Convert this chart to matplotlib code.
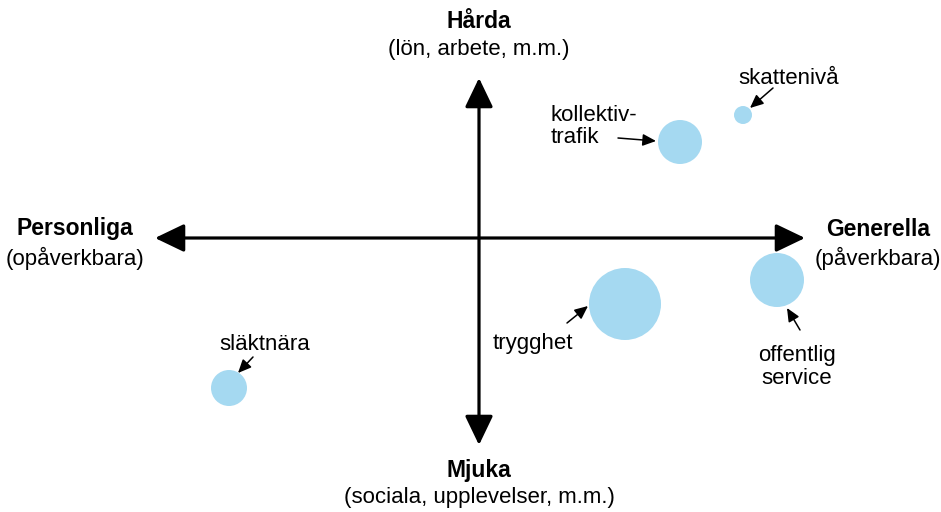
import matplotlib
matplotlib.use("Agg")
import matplotlib.pyplot as plt
from matplotlib.patches import Circle, FancyArrowPatch

plt.rcParams['font.family'] = ['Liberation Sans', 'DejaVu Sans']

# bubbles: position in the personal/general (x) and soft/hard (y) plane, radius
names = ['kollektivtrafik', 'skattenivå', 'trygghet', 'offentlig service', 'släktnära']
xs = [2.01, 2.64, 1.46, 2.98, -2.50]
ys = [0.96, 1.23, -0.66, -0.42, -1.50]
sizes = [0.22, 0.09, 0.36, 0.27, 0.18]

# label text, label position, arrow start, arrow end
labels = ['kollektiv-\ntrafik', 'skattenivå', 'trygghet', 'offentlig\nservice', 'släktnära']
label_xy = [(0.72, 1.115), (3.10, 1.60), (0.54, -1.05), (3.18, -1.29), (-2.14, -1.07)]
label_ha = ['left', 'center', 'center', 'center', 'center']
arrow_from = [(1.39, 1.00), (2.94, 1.50), (0.88, -0.85), (3.21, -0.92), (-2.26, -1.19)]
arrow_to = [(1.77, 0.97), (2.71, 1.30), (1.09, -0.68), (3.08, -0.70), (-2.41, -1.35)]

# axis ends and their captions
x_ends = (-3.24, 3.26)
y_ends = (-2.07, 1.60)
pole_titles = ['Hårda', 'Mjuka', 'Personliga', 'Generella']
pole_notes = ['(lön, arbete, m.m.)', '(sociala, upplevelser, m.m.)', '(opåverkbara)', '(påverkbara)']
pole_xy = [(0.0, 2.16), (0.0, -2.33), (-4.04, 0.09), (3.99, 0.09)]
note_gap = [0.28, 0.26, 0.29, 0.29]

fig = plt.figure(figsize=(9.41, 5.12), dpi=100)
ax = fig.add_axes([0, 0, 1, 1])
ax.set_xlim(-4.79, 4.62)
ax.set_ylim(-2.74, 2.38)
ax.axis('off')

big = dict(arrowstyle='<|-|>,head_length=1.0,head_width=0.48', mutation_scale=18,
           lw=2.3, color='black', shrinkA=0, shrinkB=0)
ax.add_patch(FancyArrowPatch((x_ends[0], 0), (x_ends[1], 0), **big))
ax.add_patch(FancyArrowPatch((0, y_ends[0]), (0, y_ends[1]), **big))

for x, y, r in zip(xs, ys, sizes):
    ax.add_patch(Circle((x, y), r, color='#a5d9f1', lw=0, zorder=3))

for txt, (lx, ly), ha, a0, a1 in zip(labels, label_xy, label_ha, arrow_from, arrow_to):
    ax.text(lx, ly, txt, ha=ha, va='center', fontsize=16, linespacing=1.1)
    ax.add_patch(FancyArrowPatch(a0, a1, arrowstyle='-|>,head_length=1.0,head_width=0.45',
                                 mutation_scale=8, lw=1.1, color='black',
                                 shrinkA=0, shrinkB=0, zorder=4))

for t, n, (px, py), g in zip(pole_titles, pole_notes, pole_xy, note_gap):
    ax.text(px, py, t, ha='center', va='center', fontsize=16.5, fontweight='bold')
    ax.text(px, py - g, n, ha='center', va='center', fontsize=16)

fig.savefig('out.png', dpi=100)
